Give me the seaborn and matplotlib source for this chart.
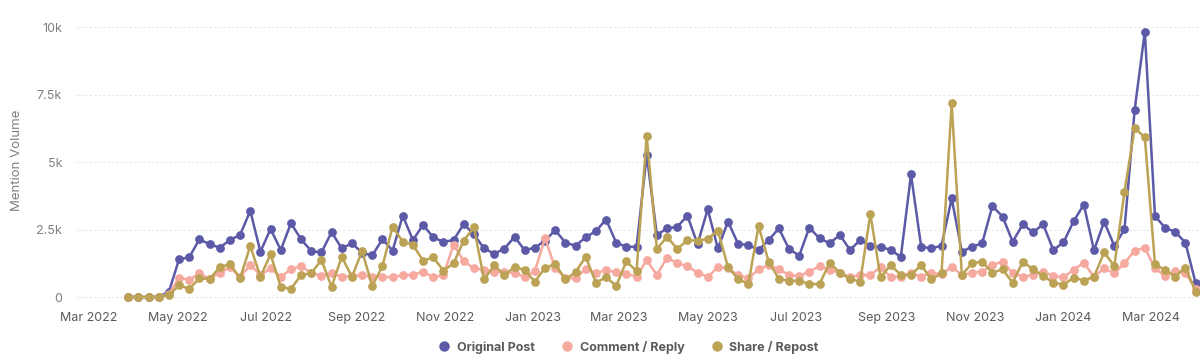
import numpy as np
import pandas as pd
import seaborn as sns
import matplotlib
matplotlib.use('Agg')
from matplotlib import pyplot as plt
import matplotlib.dates as mdates
from matplotlib.ticker import FuncFormatter
from matplotlib.lines import Line2D

sns.set_theme(style="white")
plt.rcParams['font.family'] = ['Inter', 'DejaVu Sans']

# weekly mention volume, Mar 2022 - Apr 2024
weeks = pd.date_range('2022-03-28', periods=106, freq='7D')

original_post = [
    0, 0, 0, 0, 200, 1400, 1470, 2140, 1950, 1830,
    2110, 2300, 3190, 1680, 2520, 1740, 2730, 2140, 1700, 1650,
    2400, 1800, 1990, 1640, 1540, 2140, 1720, 3010, 2110, 2670,
    2210, 2040, 2110, 2700, 2320, 1800, 1600, 1790, 2230, 1730,
    1830, 2080, 2480, 2010, 1900, 2210, 2440, 2870, 2010, 1860,
    1860, 5260, 2300, 2540, 2600, 3010, 1960, 3250, 1800, 2790,
    1960, 1930, 1740, 2110, 2540, 1780, 1530, 2570, 2170, 1990,
    2300, 1740, 2110, 1890, 1860, 1740, 1490, 4540, 1860, 1800,
    1900, 3650, 1680, 1860, 1990, 3370, 2980, 2050, 2690, 2400,
    2690, 1740, 2020, 2810, 3420, 1730, 2790, 1890, 2510, 6930,
    9830, 3000, 2560, 2410, 2010, 510,
]

comment_reply = [
    0, 0, 0, 0, 100, 720, 630, 880, 670, 900,
    1100, 750, 1185, 815, 1060, 750, 1025, 1150, 880, 790,
    880, 750, 780, 815, 730, 750, 730, 815, 815, 940,
    730, 815, 1930, 1330, 1060, 1000, 940, 920, 880, 750,
    960, 2180, 1060, 710, 690, 1040, 890, 990, 920, 860,
    750, 1370, 815, 1460, 1250, 1150, 900, 750, 1100, 1060,
    815, 690, 1025, 1185, 1025, 815, 780, 940, 1150, 1000,
    900, 730, 815, 815, 1100, 750, 750, 900, 750, 900,
    840, 1120, 815, 900, 940, 1185, 1310, 880, 750, 815,
    940, 780, 730, 1010, 1270, 750, 1060, 880, 1250, 1720,
    1830, 1060, 780, 975, 900, 300,
]

share_repost = [
    0, 0, 0, 0, 70, 440, 300, 690, 670, 1100,
    1220, 690, 1890, 750, 1580, 380, 300, 815, 880, 1370,
    380, 1490, 750, 1700, 410, 1140, 2600, 2050, 1930, 1345,
    1470, 975, 1250, 2090, 2580, 650, 1170, 815, 1110, 1000,
    570, 1080, 1220, 650, 920, 1490, 530, 730, 415, 1320,
    960, 5970, 1780, 2230, 1780, 2100, 2090, 2150, 2460, 1100,
    670, 480, 2630, 1310, 670, 600, 600, 480, 480, 1270,
    900, 670, 570, 3070, 730, 1185, 815, 815, 1185, 650,
    880, 7170, 815, 1250, 1310, 900, 1025, 530, 1310, 1025,
    780, 530, 450, 720, 610, 750, 1650, 1150, 3900, 6250,
    5920, 1210, 1000, 750, 1090, 200,
]

series_names = ['Original Post', 'Comment / Reply', 'Share / Repost']
colors = ['#5c5aa6', '#f5a99f', '#bba254']

df = pd.DataFrame({'week': weeks,
                   'Original Post': original_post,
                   'Comment / Reply': comment_reply,
                   'Share / Repost': share_repost})
df = df.melt(id_vars='week', var_name='type', value_name='mentions')

fig = plt.figure(figsize=(12, 3.58), dpi=100)
ax = fig.add_axes([76 / 1200, 1 - 305.1 / 358, 1 - 76 / 1200, 286.2 / 358])

sns.lineplot(data=df, x='week', y='mentions', hue='type', hue_order=series_names,
             palette=colors, marker='o', markersize=6.3, markeredgewidth=0,
             linewidth=1.8, legend=False, ax=ax, clip_on=False)

ax.set_ylim(-300, 10300)
ax.set_xlim(pd.Timestamp('2022-02-20'), pd.Timestamp('2024-04-04'))
ax.set_yticks([0, 2500, 5000, 7500, 10000])
ax.yaxis.set_major_formatter(FuncFormatter(lambda v, p: '0' if v == 0 else f'{v / 1000:g}k'))
ax.xaxis.set_major_locator(mdates.MonthLocator(bymonth=[1, 3, 5, 7, 9, 11]))
ax.xaxis.set_major_formatter(mdates.DateFormatter('%b %Y'))

ax.tick_params(axis='y', length=0, pad=10, labelsize=9, labelcolor='#808080')
ax.tick_params(axis='x', length=0, pad=5, labelsize=9, labelcolor='#5a5a5a')
ax.set_xlabel('')
ax.set_ylabel('')
ax.yaxis.grid(True, color='#e6e6e6', linestyle=(0, (2, 2)), linewidth=0.8)
ax.xaxis.grid(False)
ax.set_axisbelow(True)
sns.despine(ax=ax, left=True, bottom=True)

fig.text(17 / 1200, 1 - 160 / 358, 'Mention Volume', rotation=90, ha='center', va='center',
         fontsize=9.5, color='#808080')

handles = [Line2D([], [], marker='o', linestyle='', color=c, markersize=7.5, markeredgewidth=0)
           for c in colors]
leg = fig.legend(handles, series_names, loc='center', bbox_to_anchor=(629 / 1200, 1 - 347 / 358),
                 ncol=3, frameon=False, handlelength=0.8, handletextpad=0.6, columnspacing=2.2,
                 prop={'size': 9, 'weight': 'bold'})
for t in leg.get_texts():
    t.set_color('#5a5a5a')

plt.savefig('out.png', dpi=100)
